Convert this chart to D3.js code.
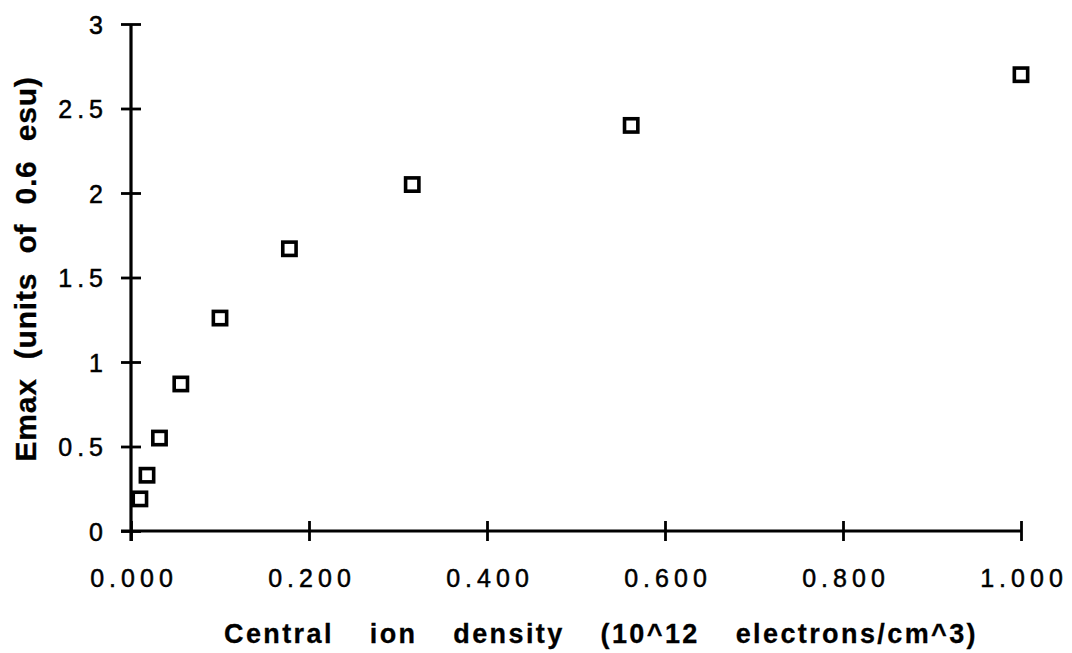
<!DOCTYPE html>
<html>
<head>
<meta charset="utf-8">
<script src="https://cdn.jsdelivr.net/npm/d3@7"></script>
<style>
  html, body { margin: 0; padding: 0; background: #fff; }
  svg { display: block; }
  text { font-family: "Liberation Sans", Arial, Helvetica, sans-serif; fill: #000; }
</style>
</head>
<body>
<svg id="chart" width="1072" height="653"></svg>
<script>
// Central ion density (10^12 electrons/cm^3) and peak field Emax
const density = [0.010, 0.018, 0.032, 0.056, 0.100, 0.178, 0.316, 0.562, 1.000];
const emax    = [0.19, 0.33, 0.55, 0.87, 1.26, 1.67, 2.05, 2.40, 2.70];

const xTicks = [0, 0.2, 0.4, 0.6, 0.8, 1.0];
const yTicks = [0, 0.5, 1, 1.5, 2, 2.5, 3];

const xTitle = "Central ion density (10^12 electrons/cm^3)";
const yTitle = "Emax (units of 0.6 esu)";

const svg = d3.select("#chart");
const plot = { left: 131, right: 1021, top: 24, bottom: 531 };

const x = d3.scaleLinear().domain([0, 1]).range([plot.left, plot.right]);
const y = d3.scaleLinear().domain([0, 3]).range([plot.bottom, plot.top]);

const tickLS = 5;   // letter spacing of tick labels

function styleTickText(sel) {
  sel.attr("fill", "#000").attr("font-family", null)
    .attr("stroke", "#000").attr("stroke-width", 0.5)
    .style("font-size", "25px")
    .style("letter-spacing", tickLS + "px");
}

// x axis
const gx = svg.append("g")
  .attr("transform", `translate(0,${plot.bottom})`)
  .call(d3.axisBottom(x).tickValues(xTicks).tickFormat(d3.format(".3f")).tickSize(10).tickPadding(0));
gx.select(".domain").attr("stroke", "#000").attr("stroke-width", 3.2)
  .attr("d", `M${x(0) - 10},0H${x(1)}`);
gx.selectAll(".tick line").attr("stroke", "#000").attr("stroke-width", 2.8)
  .attr("y1", -10).attr("y2", 10);
gx.selectAll(".tick text")
  .attr("y", 56).attr("dy", 0)
  .attr("dx", tickLS / 2)
  .call(styleTickText);

// y axis
const gy = svg.append("g")
  .attr("transform", `translate(${plot.left},0)`)
  .call(d3.axisLeft(y).tickValues(yTicks).tickFormat(d3.format("")).tickSize(10).tickPadding(0));
gy.select(".domain").attr("stroke", "#000").attr("stroke-width", 3.2)
  .attr("d", `M0,${y(0) + 10}V${y(3)}`);
gy.selectAll(".tick line").attr("stroke", "#000").attr("stroke-width", 2.8)
  .attr("x1", -10).attr("x2", 10);
gy.selectAll(".tick text")
  .attr("x", -28 + tickLS).attr("dy", 0).attr("y", 9)
  .call(styleTickText);

// axis titles
svg.append("text")
  .attr("x", 224).attr("y", 643)
  .attr("text-anchor", "start")
  .attr("stroke", "#000").attr("stroke-width", 0.3)
  .style("font-size", "27px").style("font-weight", "bold")
  .style("letter-spacing", "2.4px").style("word-spacing", "26px")
  .text(xTitle);

svg.append("text")
  .attr("transform", `translate(36,269) rotate(-90)`)
  .attr("text-anchor", "middle")
  .attr("stroke", "#000").attr("stroke-width", 0.3)
  .style("font-size", "30px").style("font-weight", "bold")
  .style("letter-spacing", "0.8px").style("word-spacing", "10px")
  .text(yTitle);

// hollow square markers
const side = 13.3;
svg.append("g").selectAll("rect")
  .data(density.map((d, i) => ({ x: d, y: emax[i] })))
  .join("rect")
  .attr("x", d => x(d.x) - side / 2)
  .attr("y", d => y(d.y) - side / 2)
  .attr("width", side).attr("height", side)
  .attr("fill", "#fff")
  .attr("stroke", "#000")
  .attr("stroke-width", 3.6);
</script>
</body>
</html>
